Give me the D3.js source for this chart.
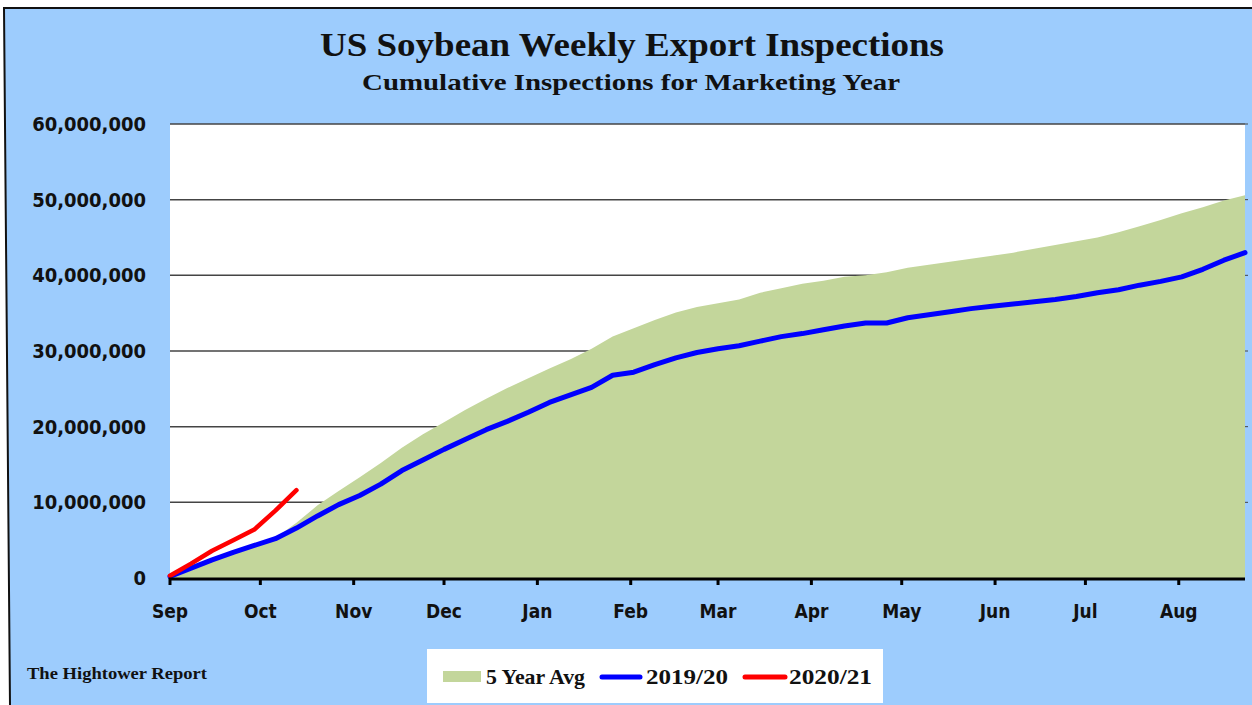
<!DOCTYPE html>
<html><head><meta charset="utf-8">
<script src="https://cdn.jsdelivr.net/npm/d3@7"></script>
<style>
html,body{margin:0;padding:0;background:#fff;}
svg{display:block;}
.ax{font-family:"DejaVu Sans",sans-serif;font-weight:bold;font-stretch:condensed;fill:#111;}
.sf{font-family:"Liberation Serif","Times New Roman",serif;font-weight:bold;fill:#111;}
</style></head>
<body>
<svg id="chart" width="1252" height="705"></svg>
<script>
// ---- data (values in millions of bushels) ----
const startDate = "2019-09-01";             // first marketing-year week
const monthLabels = ["Sep","Oct","Nov","Dec","Jan","Feb","Mar","Apr","May","Jun","Jul","Aug"];
const yTicks = [0,10,20,30,40,50,60];
const seriesNames = ["5 Year Avg","2019/20","2020/21"];
const avg5 = [0,1.1,2.2,3.2,4.1,5.3,7.3,9.6,11.5,13.3,15.2,17.2,19.0,20.6,22.2,23.7,25.1,26.4,27.7,28.9,30.3,31.9,33.0,34.1,35.1,35.8,36.3,36.8,37.7,38.3,38.9,39.3,39.8,40.0,40.4,41.0,41.4,41.8,42.2,42.6,43.0,43.5,44.0,44.5,45.0,45.7,46.5,47.3,48.2,49.0,49.9,50.6];
const y2019 = [0.2,1.3,2.4,3.4,4.3,5.2,6.6,8.2,9.7,10.9,12.4,14.2,15.6,17.0,18.3,19.6,20.7,21.9,23.2,24.2,25.2,26.8,27.2,28.2,29.1,29.8,30.3,30.7,31.3,31.9,32.3,32.8,33.3,33.7,33.7,34.4,34.8,35.2,35.6,35.9,36.2,36.5,36.8,37.2,37.7,38.1,38.7,39.2,39.8,40.8,42.0,43.0];
const y2020 = [0.3,1.9,3.6,5.0,6.4,8.9,11.6];

const svg = d3.select("#chart");
const W = 1252, H = 705;
const M = {left:170, right:1245, top:124, bottom:578};

const t0 = d3.timeParse("%Y-%m-%d")(startDate);
const weekDate = i => d3.timeDay.offset(t0, 7*i);
const x = d3.scaleTime().domain([t0, weekDate(avg5.length-1)]).range([M.left, M.right]);
const y = d3.scaleLinear().domain([0,60]).range([M.bottom, M.top]);

// background frame
svg.append("path").attr("d",`M4,8 L${W},8 L${W},${H} L10,${H} Z`).attr("fill","#9dccfd");
svg.append("path").attr("d",`M${W},8 L4,8 L10,${H}`).attr("fill","none").attr("stroke","#111").attr("stroke-width",2);

// plot area
svg.append("rect").attr("x",M.left).attr("y",M.top).attr("width",M.right-M.left).attr("height",M.bottom-M.top).attr("fill","#fff");

// gridlines
svg.append("g").selectAll("line").data(yTicks.filter(d=>d>0)).join("line")
  .attr("x1",M.left).attr("x2",M.right).attr("y1",d=>y(d)).attr("y2",d=>y(d))
  .attr("stroke","#444").attr("stroke-width",1.5);
// right small ticks
svg.append("g").selectAll("line").data(yTicks.filter(d=>d>0)).join("line")
  .attr("x1",M.right).attr("x2",M.right+3).attr("y1",d=>y(d)).attr("y2",d=>y(d))
  .attr("stroke","#444").attr("stroke-width",1);

// y labels
const fmt = d3.format(",");
svg.append("g").selectAll("text").data(yTicks).join("text")
  .attr("class","ax").attr("x",146).attr("y",d=>y(d)+7).attr("text-anchor","end")
  .attr("font-size",20).text(d=>fmt(d*1e6));

// series
const area = d3.area().x((d,i)=>x(weekDate(i))).y0(y(0)).y1(d=>y(d));
svg.append("path").datum(avg5).attr("d",area).attr("fill","#c3d69b");

const line = d3.line().x((d,i)=>x(weekDate(i))).y(d=>y(d));
svg.append("path").datum(y2019).attr("d",line).attr("fill","none").attr("stroke","#0000ff")
  .attr("stroke-width",5).attr("stroke-linejoin","round").attr("stroke-linecap","round");
svg.append("path").datum(y2020).attr("d",line).attr("fill","none").attr("stroke","#ff0000")
  .attr("stroke-width",4.5).attr("stroke-linejoin","round").attr("stroke-linecap","round");

// x axis
const monthTicks = d3.timeMonth.range(t0, d3.timeDay.offset(weekDate(avg5.length-1),1));
svg.append("line").attr("x1",M.left-1).attr("x2",M.right).attr("y1",M.bottom+1).attr("y2",M.bottom+1)
  .attr("stroke","#000").attr("stroke-width",3);
const xt = svg.append("g").selectAll("g").data(monthTicks).join("g")
  .attr("transform",d=>`translate(${x(d)},${M.bottom})`);
xt.append("line").attr("y1",0).attr("y2",7).attr("stroke","#000").attr("stroke-width",3);
xt.append("text").attr("class","ax").attr("y",40).attr("text-anchor","middle").attr("font-size",19)
  .text((d,i)=>monthLabels[i]);

// titles
svg.append("text").attr("class","sf").attr("x",632).attr("y",56).attr("text-anchor","middle")
  .attr("font-size",33).attr("textLength",624).attr("lengthAdjust","spacingAndGlyphs")
  .text("US Soybean Weekly Export Inspections");
svg.append("text").attr("class","sf").attr("x",631).attr("y",90).attr("text-anchor","middle")
  .attr("font-size",23).attr("textLength",538).attr("lengthAdjust","spacingAndGlyphs")
  .text("Cumulative Inspections for Marketing Year");
svg.append("text").attr("class","sf").attr("x",27).attr("y",679)
  .attr("font-size",17).attr("textLength",180).attr("lengthAdjust","spacingAndGlyphs")
  .text("The Hightower Report");

// legend
const lg = svg.append("g");
lg.append("rect").attr("x",427).attr("y",649).attr("width",456).attr("height",54).attr("fill","#fff");
lg.append("rect").attr("x",443).attr("y",671).attr("width",38).attr("height",11).attr("fill","#c3d69b");
lg.append("line").attr("x1",602).attr("x2",640).attr("y1",677).attr("y2",677).attr("stroke","#0000ff").attr("stroke-width",5).attr("stroke-linecap","round");
lg.append("line").attr("x1",745).attr("x2",785).attr("y1",677).attr("y2",677).attr("stroke","#ff0000").attr("stroke-width",5).attr("stroke-linecap","round");
const lgText = [[486,99],[646,82],[789,83]];
lg.selectAll("text").data(seriesNames).join("text").attr("class","sf")
  .attr("x",(d,i)=>lgText[i][0]).attr("y",684).attr("font-size",21)
  .attr("textLength",(d,i)=>lgText[i][1]).attr("lengthAdjust","spacingAndGlyphs").text(d=>d);
</script>
</body></html>
